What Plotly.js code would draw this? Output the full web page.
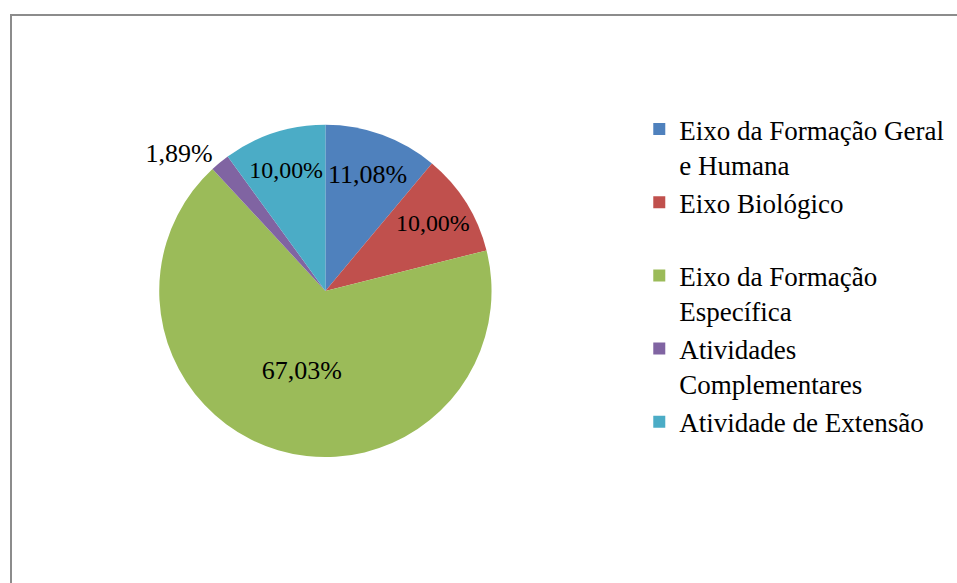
<!DOCTYPE html>
<html>
<head>
<meta charset="utf-8">
<script src="https://cdn.plot.ly/plotly-3.0.1.min.js"></script>
<style>
  html, body { margin: 0; padding: 0; background: #fff; overflow: hidden; }
  #wrap { position: relative; width: 957px; height: 583px; overflow: hidden; }
  #frame { position: absolute; left: 10px; top: 14px; width: 980px; height: 600px;
           border: 2px solid #8c8c8c; box-sizing: border-box; }
  #chart { position: absolute; left: 0; top: 0; width: 957px; height: 583px; }
</style>
</head>
<body>
<div id="wrap">
  <div id="frame"></div>
  <div id="chart"></div>
</div>
<script>
const categories = [
  "Eixo da Formação Geral<br>e Humana",
  "Eixo Biológico<br> ",
  "Eixo da Formação<br>Específica",
  "Atividades<br>Complementares",
  "Atividade de Extensão<br> "
];
const shares = [11.08, 10.00, 67.03, 1.89, 10.00];
const sliceColors = ["#4F81BD", "#C0504D", "#9BBB59", "#8064A2", "#4BACC6"];

const labelTexts = shares.map(v => v.toFixed(2).replace(".", ",") + "%");

const trace = {
  type: "pie",
  labels: categories,
  values: shares,
  text: labelTexts,
  textinfo: "text",
  texttemplate: "%{text}",
  hoverinfo: "label+text",
  sort: false,
  direction: "clockwise",
  rotation: 0,
  marker: { colors: sliceColors, line: { width: 0 } },
  textposition: ["inside", "inside", "inside", "outside", "inside"],
  insidetextorientation: "horizontal",
  textfont: { family: "Liberation Serif", size: 26, color: "#000" },
  domain: { x: [0.10, 0.58], y: [0.216, 0.786] },
  showlegend: true
};

const layout = {
  width: 957,
  height: 583,
  margin: { l: 0, r: 0, t: 0, b: 0 },
  paper_bgcolor: "rgba(0,0,0,0)",
  plot_bgcolor: "rgba(0,0,0,0)",
  showlegend: true,
  legend: {
    xref: "paper", yref: "paper",
    x: 0.668, xanchor: "left",
    y: 0.82, yanchor: "top",
    valign: "top",
    font: { family: "Liberation Serif", size: 27, color: "#000" },
    traceorder: "normal",
    bgcolor: "rgba(0,0,0,0)"
  }
};

Plotly.newPlot("chart", [trace], layout, { displayModeBar: false, staticPlot: true });
</script>
</body>
</html>
